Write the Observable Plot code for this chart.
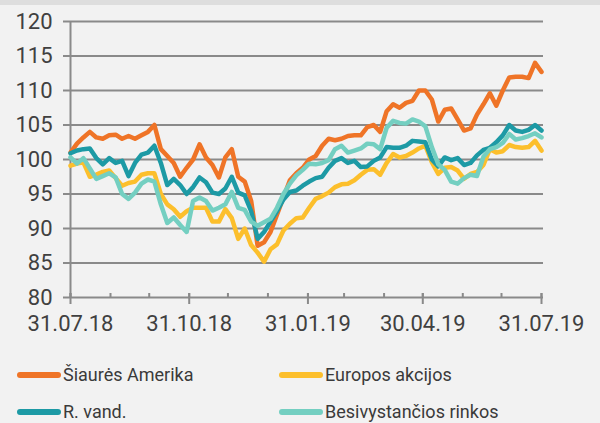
<!DOCTYPE html>
<html><head><meta charset="utf-8">
<script src="https://cdn.jsdelivr.net/npm/d3@7"></script>
<script src="https://cdn.jsdelivr.net/npm/@observablehq/plot@0.6"></script>
<style>
body{margin:0;background:#f2f2f2;font-family:Roboto,sans-serif;width:600px;height:423px;overflow:hidden}
#top{height:5px;background:#dedede}
#chart svg{display:block}
#legend{position:relative;height:74px;margin-top:6px}
.item{position:absolute;display:flex;align-items:center;font-size:18px;color:#3a3a3a;height:37px}
.sw{width:44px;height:6px;border-radius:3px;margin-right:2px}
</style></head><body>
<div id="top"></div><div id="chart"></div><div id="legend"></div>
<script>
const dates = ["2018-07-31","2018-08-05","2018-08-10","2018-08-15","2018-08-20","2018-08-25","2018-08-30",
"2018-09-04","2018-09-09","2018-09-14","2018-09-19","2018-09-24","2018-09-29",
"2018-10-04","2018-10-09","2018-10-14","2018-10-19","2018-10-24","2018-10-29",
"2018-11-03","2018-11-08","2018-11-13","2018-11-18","2018-11-23","2018-11-28",
"2018-12-03","2018-12-08","2018-12-13","2018-12-18","2018-12-23","2018-12-28",
"2019-01-02","2019-01-07","2019-01-12","2019-01-17","2019-01-22","2019-01-27",
"2019-02-01","2019-02-06","2019-02-11","2019-02-16","2019-02-21","2019-02-26",
"2019-03-03","2019-03-08","2019-03-13","2019-03-18","2019-03-23","2019-03-28",
"2019-04-02","2019-04-07","2019-04-12","2019-04-17","2019-04-22","2019-04-27",
"2019-05-02","2019-05-07","2019-05-12","2019-05-17","2019-05-22","2019-05-27",
"2019-06-01","2019-06-06","2019-06-11","2019-06-16","2019-06-21","2019-06-26",
"2019-07-01","2019-07-06","2019-07-11","2019-07-16","2019-07-21","2019-07-26","2019-07-31"];

const northAmerica = [101,102.3,103.2,104,103.2,103,103.5,103.6,103,103.4,
103,103.5,104,105,101.5,100.5,99.5,97.5,98.8,100,
102.2,100.3,99.2,97.4,100.3,101.5,97.5,96.8,94,87.5,
88,89.5,92,94.5,97,98,98.8,100,100.5,102,
103,102.8,103,103.4,103.5,103.5,104.7,105,104,107,
108,107.5,108.2,108.5,110,110,108.7,105.5,107.2,107.4,
105.8,104.2,104.5,106.5,108,109.6,107.8,110,111.9,112,
112,111.8,114,112.7];

const europe = [99.1,99.4,99.6,97.5,97.8,98.2,98.4,97.3,96.2,96.6,
96.8,97.8,98,98,95,93.5,92.8,91.7,92.5,93,
93,93,91,91,92.8,91.5,88.5,90,87.6,86.5,
85.2,87,87.7,89.7,90.7,91.5,91.6,93,94.3,94.7,
95.2,96,96.4,96.5,97,97.8,98.5,98.6,97.8,99.5,
100.8,100.3,100.5,101,101.6,102,99.6,97.9,98.8,98.9,
98.4,97.2,97.9,98.2,99.2,101.5,101,101.2,102.1,101.8,
101.7,101.8,102.7,101.3];

const bonds = [100.9,101.3,101.5,101.6,100.2,99.3,100.2,99.5,99.8,97.6,
99.5,100.7,101,102,99.5,96.3,97.2,96.3,95,96,
97.4,96.7,95.2,95,95.8,97.5,95.2,94.8,92.5,88.5,
89.5,91,92.5,94.2,95.3,95.5,96.2,96.8,97.3,97.5,
98.8,99.8,100.2,99.5,99.8,98.9,99,99.8,100.3,101.8,
101.7,101.7,102,102.7,102.6,102.5,100,99,100.3,99.9,
100.2,99.2,99.5,100.6,101.4,101.7,102.5,103.5,105,104.2,
104,104.3,105,104.2];

const emerging = [100.3,99.4,100.2,98.7,97.2,97.6,98,97.4,95,94.3,
95.2,96.5,97.1,96.8,93.5,90.8,91.6,90.5,89.5,94,
94.5,94,92.6,93,93.5,95.3,93,92.7,91,90.4,
90.9,91.4,93,95,96.5,97.7,98.5,99.4,99.3,99.5,
99.9,101.5,102,101,101.3,101.6,102.3,102.2,101.5,104.6,
105.6,105.3,105.2,105.8,105.5,104.8,101.8,99.3,98.5,96.8,
96.5,97.3,97.8,97.6,100.4,101.5,101.8,102.4,103.7,102.9,
103.1,103.4,103.8,103.2];

const seriesNames = ["Šiaurės Amerika","Europos akcijos","R. vand.","Besivystančios rinkos"];
const seriesColors = ["#ef7427","#fcbf2c","#1d9aa5","#74cfc1"];
const seriesValues = [northAmerica, europe, bonds, emerging];

const yTicks = [80,85,90,95,100,105,110,115,120];
const monthEnds = ["2018-07-31","2018-08-31","2018-09-30","2018-10-31","2018-11-30","2018-12-31",
"2019-01-31","2019-02-28","2019-03-31","2019-04-30","2019-05-31","2019-06-30","2019-07-31"];
const labeledTicks = ["2018-07-31","2018-10-31","2019-01-31","2019-04-30","2019-07-31"];

const parse = s => new Date(s + "T00:00:00Z");
const data = [];
seriesNames.forEach((name, i) => {
  seriesValues[i].forEach((v, j) => data.push({date: parse(dates[j]), value: v, series: name}));
});
const fmt = d3.utcFormat("%d.%m.%y");
const grid = "#8a8a8a";

const chart = Plot.plot({
  width: 600, height: 345,
  marginLeft: 70, marginRight: 59, marginTop: 16, marginBottom: 53,
  style: {background: "transparent", fontFamily: "Roboto, sans-serif", fontSize: "22px", color: "#404040"},
  x: {type: "utc", domain: [parse(dates[0]), parse(dates[dates.length - 1])]},
  y: {domain: [80, 120]},
  color: {domain: seriesNames, range: seriesColors},
  marks: [
    Plot.ruleY(yTicks, {stroke: grid, strokeWidth: 2, insetRight: -2}),
    Plot.ruleX([parse(dates[0])], {stroke: grid, strokeWidth: 2}),
    Plot.axisY({ticks: yTicks, tickSize: 7, tickPadding: 11, stroke: grid, strokeWidth: 2, label: null, tickFormat: d => d}),
    Plot.axisX({ticks: monthEnds.map(parse), tickSize: 4, dy: -4, stroke: grid, strokeWidth: 2, label: null, tickFormat: () => ""}),
    Plot.axisX({ticks: labeledTicks.map(parse), tickSize: 11, dy: -4, tickPadding: 11, stroke: grid, strokeWidth: 2, label: null, tickFormat: fmt}),
    Plot.line(data, {x: "date", y: "value", z: "series", stroke: "series", strokeWidth: 4.5, strokeLinejoin: "round", strokeLinecap: "round"})
  ]
});
document.getElementById("chart").appendChild(chart);

const legend = document.getElementById("legend");
const pos = [[17,0],[279,0],[17,37],[279,37]];
seriesNames.forEach((name, i) => {
  const it = document.createElement("div");
  it.className = "item";
  it.style.left = pos[i][0] + "px";
  it.style.top = pos[i][1] + "px";
  const sw = document.createElement("span");
  sw.className = "sw";
  sw.style.background = seriesColors[i];
  const t = document.createElement("span");
  t.textContent = name;
  it.appendChild(sw); it.appendChild(t);
  legend.appendChild(it);
});
</script>
</body></html>
